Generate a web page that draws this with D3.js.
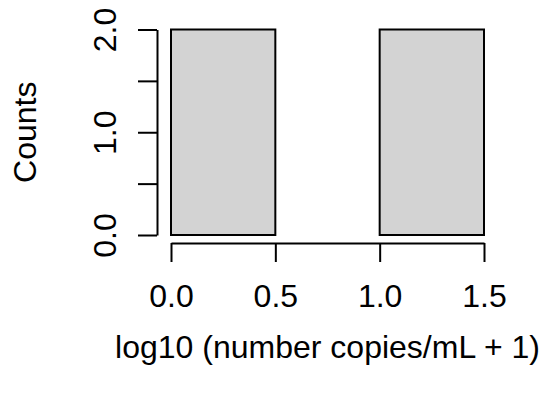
<!DOCTYPE html>
<html>
<head>
<meta charset="utf-8">
<script src="https://cdn.jsdelivr.net/npm/d3@7"></script>
<style>
  body { margin: 0; background: #fff; }
  text { font-family: "Liberation Sans", Arial, sans-serif; fill: #000; }
</style>
</head>
<body>
<svg width="550" height="397"></svg>
<script>
// histogram bins (left edges / right edges) and counts
var binStart = [0, 0.5, 1.0];
var binEnd = [0.5, 1.0, 1.5];
var counts = [2, 0, 2];
var xTicks = [0, 0.5, 1.0, 1.5];
var xTickLabels = ['0.0', '0.5', '1.0', '1.5'];
var yTicks = [0, 0.5, 1.0, 1.5, 2.0];
var yTickLabels = ['0.0', '', '1.0', '', '2.0'];

var svg = d3.select('svg');
var x = d3.scaleLinear().domain([0, 1.5]).range([171, 484]);
var y = d3.scaleLinear().domain([0, 2]).range([235, 29.5]);

var bars = binStart.map(function(s, i) { return {x0: s, x1: binEnd[i], n: counts[i]}; });

svg.selectAll('rect.bar').data(bars).enter().append('rect')
  .attr('class', 'bar')
  .attr('x', function(d) { return x(d.x0); })
  .attr('y', function(d) { return y(d.n); })
  .attr('width', function(d) { return x(d.x1) - x(d.x0); })
  .attr('height', function(d) { return y(0) - y(d.n); })
  .attr('fill', '#d3d3d3').attr('stroke', '#000').attr('stroke-width', 2);

// x axis
var xa = svg.append('g').attr('transform', 'translate(0,243)')
  .call(d3.axisBottom(x).tickValues(xTicks).tickSize(19).tickSizeOuter(0)
    .tickFormat(function(d, i) { return xTickLabels[i]; }));
xa.selectAll('path, line').attr('stroke', '#000').attr('stroke-width', 2);
xa.selectAll('text').attr('y', 64).attr('dy', null)
  .style('font-size', '32px').style('font-family', '"Liberation Sans", Arial, sans-serif').attr('fill', '#000');

// y axis
var ya = svg.append('g').attr('transform', 'translate(157,0)')
  .call(d3.axisLeft(y).tickValues(yTicks).tickSize(19).tickSizeOuter(0)
    .tickFormat(function(d, i) { return yTickLabels[i]; }));
ya.selectAll('path, line').attr('stroke', '#000').attr('stroke-width', 2);
ya.selectAll('text').attr('x', null).attr('dy', null)
  .attr('transform', 'translate(-41,0) rotate(-90)')
  .attr('text-anchor', 'middle')
  .style('font-size', '32px').style('font-family', '"Liberation Sans", Arial, sans-serif').attr('fill', '#000');

// axis titles
svg.append('text').attr('x', x(0.75)).attr('y', 358).attr('text-anchor', 'middle')
  .style('font-size', '32px').text('log10 (number copies/mL + 1)');
svg.append('text').attr('transform', 'translate(36,' + y(1) + ') rotate(-90)')
  .attr('text-anchor', 'middle').style('font-size', '32px').text('Counts');
</script>
</body>
</html>
